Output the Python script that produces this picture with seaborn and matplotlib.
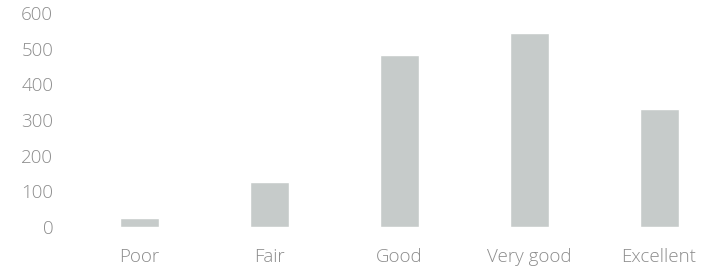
import matplotlib
matplotlib.use("Agg")
import matplotlib.pyplot as plt
import seaborn as sns
import pandas as pd

# Ratings and their counts
ratings = ["Poor", "Fair", "Good", "Very good", "Excellent"]
counts = [24, 125, 483, 546, 332]
y_ticks = [0, 100, 200, 300, 400, 500, 600]

df = pd.DataFrame({"rating": ratings, "count": counts})

sns.set_style("white")
plt.rcParams["font.family"] = ["Open Sans", "DejaVu Sans"]
plt.rcParams["font.weight"] = "light"

text_color = "#8c8c8c"
bar_color = "#c6cbca"

fig = plt.figure(figsize=(7.01, 2.70), dpi=100)
# plot area runs a little past the right edge, as in the cropped scan
ax = fig.add_axes([74 / 701, 0.1604, 627 / 701, 0.7903])

sns.barplot(data=df, x="rating", y="count", ax=ax, color=bar_color,
            width=0.3, saturation=1)

ax.set_xlim(-0.5, -0.5 + 627 / 130)
ax.set_ylim(0, 600)
ax.set_yticks(y_ticks)
ax.set_xlabel("")
ax.set_ylabel("")

for side in ["top", "right", "left", "bottom"]:
    ax.spines[side].set_visible(False)

ax.tick_params(axis="y", length=0, pad=15, labelsize=13.5, labelcolor=text_color)
ax.tick_params(axis="x", length=0, pad=15, labelsize=13.5, labelcolor=text_color)

fig.savefig("out.png", dpi=100, facecolor="white")
